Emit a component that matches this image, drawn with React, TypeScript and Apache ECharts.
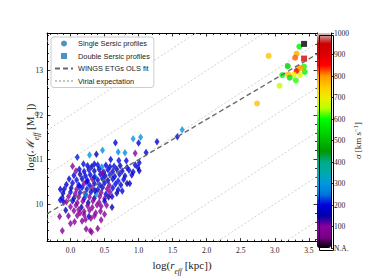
import React, { useEffect, useRef } from 'react';
import * as echarts from 'echarts';

// axis ranges
const X_MIN = -0.345;
const X_MAX = 3.62;
const Y_MIN = 9.155;
const Y_MAX = 13.845;

// tick positions / labels
const X_MAJOR = [0, 0.5, 1, 1.5, 2, 2.5, 3, 3.5];
const X_MINOR = [-0.3, -0.2, -0.1, 0.1, 0.2, 0.3, 0.4, 0.6, 0.7, 0.8, 0.9, 1.1, 1.2, 1.3, 1.4, 1.6, 1.7, 1.8, 1.9, 2.1, 2.2, 2.3, 2.4, 2.6, 2.7, 2.8, 2.9, 3.1, 3.2, 3.3, 3.4, 3.6];
const Y_MAJOR = [10, 11, 12, 13];
const Y_MINOR = [9.2, 9.4, 9.6, 9.8, 10.2, 10.4, 10.6, 10.8, 11.2, 11.4, 11.6, 11.8, 12.2, 12.4, 12.6, 12.8, 13.2, 13.4, 13.6, 13.8];
const CBAR_MIN = 0;
const CBAR_MAX = 1000;
const CBAR_LABELS = ['N.A.', '100', '200', '300', '400', '500', '600', '700', '800', '900', '1000'];

// nipy_spectral colormap stops
const NIPY = ['#000000', '#770088', '#880099', '#0000aa', '#0000dd', '#0077dd', '#0099dd', '#00aaaa', '#00aa88', '#009900', '#00bb00', '#00dd00', '#00ff00', '#bbff00', '#eeee00', '#ffcc00', '#ff9900', '#ff0000', '#dd0000', '#cc0000', '#cccccc'];

// WINGS ETGs: [log r_eff, log M_eff, sigma]
const ETG_POINTS: number[][] = [
  [0.10, 11.05, 210], [0.28, 11.10, 290], [0.38, 11.12, 150], [0.47, 11.21, 290], [0.66, 11.38, 200],
  [0.70, 11.17, 280], [0.80, 11.15, 285], [0.92, 11.47, 295], [0.95, 11.14, 95], [1.03, 11.50, 290],
  [1.00, 11.37, 195], [1.11, 11.16, 200], [1.27, 11.40, 200], [1.57, 11.51, 195], [1.64, 11.67, 290],
  [0.19, 10.90, 205], [0.03, 10.85, 100], [0.59, 11.00, 200], [0.71, 10.98, 205], [0.82, 10.97, 200],
  [0.83, 10.82, 200], [1.01, 10.93, 195], [0.99, 10.82, 190], [1.01, 10.75, 150], [0.35, 10.90, 200],
  [0.95, 10.88, 200], [0.87, 10.46, 200], [0.76, 10.29, 195], [0.61, 10.17, 200], [0.61, 9.93, 150],
  [-0.15, 10.33, 200], [-0.07, 9.86, 160], [-0.16, 9.72, 100], [-0.12, 9.40, 95], [0.06, 9.60, 100],
  [0.14, 9.80, 100], [0.23, 9.44, 100], [0.31, 9.37, 100], [-0.03, 9.73, 110], [0.39, 9.98, 100],
  [0.37, 9.80, 100], [0.40, 9.45, 95], [0.29, 9.40, 100], [-0.15, 10.09, 200], [-0.10, 10.04, 160],
  [0.00, 9.56, 100], [0.17, 9.62, 105], [0.27, 9.72, 190],
  [0.25, 10.86, 200], [0.31, 10.84, 150], [0.40, 10.88, 205], [0.46, 10.83, 280], [0.52, 10.87, 200],
  [0.58, 10.84, 190], [0.64, 10.85, 205], [0.73, 10.86, 160],
  [0.08, 10.74, 100], [0.13, 10.78, 200], [0.20, 10.73, 195], [0.27, 10.77, 205], [0.35, 10.74, 150],
  [0.42, 10.78, 200], [0.49, 10.72, 210], [0.55, 10.77, 195], [0.62, 10.73, 200], [0.68, 10.78, 150],
  [0.76, 10.74, 200], [0.86, 10.76, 195], [0.92, 10.72, 200],
  [0.05, 10.64, 200], [0.14, 10.67, 150], [0.22, 10.63, 200], [0.29, 10.66, 190], [0.36, 10.62, 280],
  [0.44, 10.67, 200], [0.51, 10.63, 150], [0.58, 10.66, 205], [0.65, 10.62, 200], [0.72, 10.67, 190],
  [0.80, 10.63, 160], [0.90, 10.65, 200], [0.47, 10.70, 100],
  [-0.02, 10.56, 200], [0.09, 10.54, 205], [0.17, 10.57, 160], [0.25, 10.53, 200], [0.32, 10.56, 100],
  [0.40, 10.54, 200], [0.47, 10.57, 195], [0.55, 10.53, 150], [0.62, 10.56, 200], [0.70, 10.52, 205],
  [0.78, 10.55, 200], [0.35, 10.60, 210],
  [-0.06, 10.44, 150], [0.03, 10.47, 200], [0.12, 10.43, 195], [0.20, 10.46, 100], [0.28, 10.42, 200],
  [0.35, 10.46, 160], [0.43, 10.43, 205], [0.50, 10.47, 200], [0.57, 10.42, 110], [0.66, 10.45, 200],
  [0.74, 10.43, 195], [0.83, 10.46, 150], [0.24, 10.50, 200],
  [-0.09, 10.34, 200], [0.01, 10.36, 160], [0.09, 10.33, 100], [0.17, 10.37, 200], [0.24, 10.33, 205],
  [0.32, 10.36, 95], [0.40, 10.32, 200], [0.47, 10.37, 150], [0.54, 10.34, 100], [0.62, 10.36, 200],
  [0.70, 10.32, 195], [0.13, 10.40, 210],
  [-0.11, 10.24, 160], [0.00, 10.27, 200], [0.07, 10.23, 100], [0.14, 10.26, 205], [0.22, 10.22, 110],
  [0.30, 10.27, 200], [0.38, 10.23, 290], [0.45, 10.26, 100], [0.52, 10.22, 200], [0.58, 10.27, 95],
  [0.68, 10.24, 160], [0.36, 10.30, 150],
  [-0.12, 10.14, 200], [-0.03, 10.17, 100], [0.05, 10.13, 150], [0.12, 10.16, 95], [0.20, 10.12, 200],
  [0.28, 10.16, 100], [0.35, 10.13, 160], [0.43, 10.17, 100], [0.50, 10.12, 95], [0.56, 10.16, 150],
  [0.23, 10.20, 270],
  [-0.06, 10.05, 100], [0.03, 10.07, 200], [0.10, 10.03, 100], [0.18, 10.06, 95], [0.26, 10.03, 150],
  [0.33, 10.07, 100], [0.42, 10.04, 100], [0.50, 10.06, 200],
  [0.00, 9.94, 100], [0.08, 9.97, 95], [0.16, 9.93, 150], [0.25, 9.96, 100], [0.32, 9.92, 95],
  [0.45, 9.95, 100], [0.53, 9.97, 95],
  [0.05, 9.85, 100], [0.12, 9.87, 95], [0.20, 9.83, 100], [0.28, 9.86, 100], [0.44, 9.84, 95],
  [0.10, 9.74, 95], [0.20, 9.76, 100], [0.35, 9.73, 100], [0.50, 9.77, 95],
  [0.22, 9.65, 100], [0.30, 9.68, 95], [0.45, 9.64, 100],
];

// BCGs, single Sersic profiles: [log r_eff, log M_eff, sigma]
const SINGLE_SERSIC: number[][] = [
  [3.36, 13.54, 580], [2.91, 13.33, 760], [3.32, 13.38, 780], [3.30, 13.29, 820], [3.19, 13.10, 520],
  [3.43, 13.09, 600], [3.34, 13.05, 780], [3.32, 12.99, 860], [3.44, 12.97, 590], [3.11, 12.90, 590],
  [3.20, 12.91, 770], [3.28, 12.91, 700], [3.37, 12.90, 690], [3.22, 12.84, 560], [3.31, 12.78, 610],
  [3.07, 12.66, 660], [2.74, 12.26, 760],
];

// BCGs, double Sersic profiles
const DOUBLE_SERSIC: number[][] = [
  [3.43, 13.60, 0], [3.43, 13.27, 900], [3.39, 13.06, 790],
];

// fits
const OLS_FIT: number[][] = [[-0.345, 9.78], [3.62, 13.37]];
const VIRIAL_OFFSETS = [6, 7, 8, 9, 10, 11, 12, 13, 14];

const SERIF = 'Liberation Serif';
const DIAMOND = 'path://M0,0L3,5L0,10L-3,5Z';
const SQUARE = 'path://M0,0L10,0L10,10L0,10Z';

export default function App() {
  const ref = useRef<HTMLDivElement>(null);
  useEffect(() => {
    if (!ref.current) return;
    const chart = echarts.init(ref.current, undefined, { renderer: 'svg' });

    const tickLabel = { color: '#222', fontFamily: SERIF, fontSize: 7.5 };
    const frameLine = { show: true, onZero: false, lineStyle: { color: '#000', width: 1 } };
    const mkX = (position: string, major: boolean, labels: boolean, line: boolean) => ({
      type: 'value', gridIndex: 0, position, min: X_MIN, max: X_MAX,
      axisLine: line ? frameLine : { show: false, onZero: false },
      axisTick: { show: true, inside: true, length: major ? 3.5 : 2, lineStyle: { color: '#000', width: 0.8 }, customValues: major ? X_MAJOR : X_MINOR },
      axisLabel: labels ? { show: true, customValues: X_MAJOR, formatter: (v: number) => v.toFixed(1), margin: 5, ...tickLabel } : { show: false },
      splitLine: { show: false },
    });
    const mkY = (position: string, major: boolean, labels: boolean, line: boolean) => ({
      type: 'value', gridIndex: 0, position, min: Y_MIN, max: Y_MAX,
      axisLine: line ? frameLine : { show: false, onZero: false },
      axisTick: { show: true, inside: true, length: major ? 3.5 : 2, lineStyle: { color: '#000', width: 0.8 }, customValues: major ? Y_MAJOR : Y_MINOR },
      axisLabel: labels ? { show: true, customValues: Y_MAJOR, formatter: (v: number) => String(Math.round(v)), margin: 4, ...tickLabel } : { show: false },
      splitLine: { show: false },
    });

    const xMain: any = mkX('bottom', true, true, true);
    xMain.name = '{n|log(}{i|r}{s|eff}{n| [kpc])}';
    xMain.nameLocation = 'middle';
    xMain.nameGap = 15;
    xMain.nameTextStyle = {
      rich: {
        n: { fontFamily: SERIF, fontSize: 11, color: '#222', lineHeight: 14, verticalAlign: 'middle' },
        i: { fontFamily: SERIF, fontSize: 11, fontStyle: 'italic', color: '#222', lineHeight: 14, verticalAlign: 'middle' },
        s: { fontFamily: SERIF, fontSize: 7.5, fontStyle: 'italic', color: '#222', lineHeight: 14, verticalAlign: 'bottom', padding: [0, 0, -3, 0] },
      },
    };
    const yMain: any = mkY('left', true, true, true);
    yMain.name = '{n|log(}{c|ℳ}{s|eff}{n| [M}{t|⊙}{n|])}';
    yMain.nameLocation = 'middle';
    yMain.nameRotate = 90;
    yMain.nameGap = 10;
    yMain.nameMoveOverlap = false;
    yMain.nameTextStyle = {
      rich: {
        n: { fontFamily: SERIF, fontSize: 11, color: '#222', lineHeight: 14, verticalAlign: 'middle' },
        c: { fontFamily: 'DejaVu Serif', fontSize: 11, fontStyle: 'italic', color: '#222', lineHeight: 14, verticalAlign: 'middle' },
        s: { fontFamily: SERIF, fontSize: 7.5, fontStyle: 'italic', color: '#222', lineHeight: 14, verticalAlign: 'bottom', padding: [0, 0, -3, 0] },
        t: { fontFamily: 'DejaVu Sans', fontSize: 6.5, color: '#222', lineHeight: 14, verticalAlign: 'bottom', padding: [0, 0, -3, 0] },
      },
    };

    const option: any = {
      animation: false,
      backgroundColor: '#fff',
      grid: [
        { left: 47, top: 33, width: 270, height: 215 },
        { left: 317, top: 33, width: 14, height: 215 },
      ],
      xAxis: [
        xMain,
        mkX('bottom', false, false, false),
        mkX('top', true, false, true),
        mkX('top', false, false, false),
        { type: 'value', gridIndex: 1, show: false, min: 0, max: 1 },
      ],
      yAxis: [
        yMain,
        mkY('left', false, false, false),
        mkY('right', true, false, true),
        mkY('right', false, false, false),
        {
          type: 'value', gridIndex: 1, position: 'right', min: CBAR_MIN, max: CBAR_MAX, interval: 100,
          axisLine: { show: true, onZero: false, lineStyle: { color: '#000', width: 1 } },
          axisTick: { show: true, inside: false, length: 3, lineStyle: { color: '#000', width: 0.8 } },
          axisLabel: { show: true, margin: 3, formatter: (v: number) => CBAR_LABELS[Math.round(v / 100)], ...tickLabel },
          splitLine: { show: false },
          name: '{i|σ} [km s{sup|−1}]',
          nameLocation: 'middle',
          nameRotate: 90,
          nameGap: 21,
          nameMoveOverlap: false,
          nameTextStyle: {
            fontFamily: SERIF, fontSize: 9, color: '#222',
            rich: {
              i: { fontFamily: SERIF, fontSize: 9, fontStyle: 'italic', color: '#222', lineHeight: 12, verticalAlign: 'middle' },
              sup: { fontFamily: SERIF, fontSize: 6.5, color: '#222', lineHeight: 12, verticalAlign: 'top' },
            },
          },
        },
      ],
      visualMap: {
        type: 'continuous', min: CBAR_MIN, max: CBAR_MAX, dimension: 2, seriesIndex: [0, 1, 2],
        inRange: { color: NIPY }, calculable: false, show: true, orient: 'vertical',
        left: 317, top: 33, itemWidth: 14, itemHeight: 215, padding: 0, hoverLink: false,
        text: null,
      },
      legend: {
        left: 51, top: 37, orient: 'vertical', padding: [3, 4, 3, 3], itemGap: 5.5,
        itemWidth: 18, itemHeight: 6,
        backgroundColor: 'rgba(255,255,255,0.85)', borderColor: '#cccccc', borderWidth: 1, borderRadius: 3,
        textStyle: { fontFamily: 'Liberation Sans', fontSize: 7.4, color: '#222' },
        data: [
          { name: 'Single Sersic profiles', icon: 'circle' },
          { name: 'Double Sersic profiles', icon: SQUARE },
          { name: 'WINGS ETGs OLS fit', itemStyle: { opacity: 0 } },
          { name: 'Virial expectation', itemStyle: { opacity: 0 } },
        ],
      },
      series: [
        { type: 'scatter', name: 'WINGS ETGs', data: ETG_POINTS, symbol: DIAMOND, symbolSize: [5, 7.5], z: 3 },
        { type: 'scatter', name: 'BCG single', data: SINGLE_SERSIC, symbol: 'circle', symbolSize: 6, z: 3 },
        { type: 'scatter', name: 'BCG double', data: DOUBLE_SERSIC, symbol: 'rect', symbolSize: 6, z: 3 },
        { type: 'scatter', name: 'Single Sersic profiles', data: [], symbol: 'circle', itemStyle: { color: '#1f77b4' } },
        { type: 'scatter', name: 'Double Sersic profiles', data: [], symbol: 'rect', itemStyle: { color: '#1f77b4' } },
        {
          type: 'line', name: 'WINGS ETGs OLS fit', data: OLS_FIT, symbol: 'none', showSymbol: false, z: 4,
          itemStyle: { color: '#6a6a6a' },
          lineStyle: { color: '#6a6a6a', width: 1.4, type: [5, 3] },
        },
        ...VIRIAL_OFFSETS.map((c) => ({
          type: 'line', name: 'Virial expectation', symbol: 'none', showSymbol: false, z: 1,
          data: [[X_MIN, X_MIN + c], [X_MAX, X_MAX + c]],
          itemStyle: { color: '#c4c4c4' },
          lineStyle: { color: '#c4c4c4', width: 0.8, type: [2, 2] },
        })),
      ],
      graphic: [
        { type: 'rect', left: 317, top: 33, shape: { width: 14, height: 215 }, style: { fill: 'none', stroke: '#000', lineWidth: 1 }, z: 100 },
      ],
    };
    chart.setOption(option);
    return () => chart.dispose();
  }, []);
  return <div ref={ref} style={{ position: 'fixed', left: 0, top: 0, width: 374, height: 280 }} />;
}
